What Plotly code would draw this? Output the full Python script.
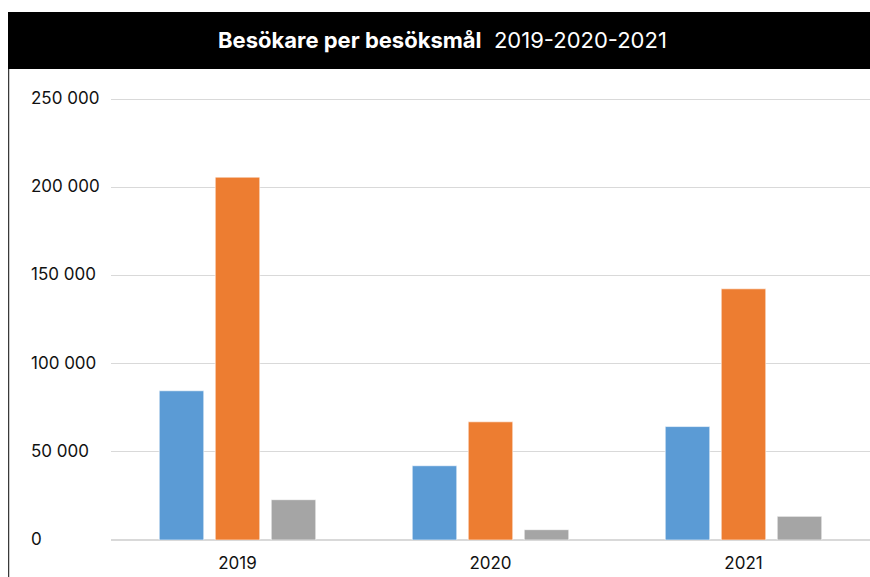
import plotly.graph_objects as go

# ---- data ----
years = ["2019", "2020", "2021"]
series_a = [84600, 42100, 64300]
series_b = [205700, 67000, 142400]
series_c = [22850, 5850, 13400]
y_ticks = [0, 50000, 100000, 150000, 200000, 250000]
title_bold = "Besökare per besöksmål"
title_rest = "2019-2020-2021"

# ---- geometry (pixels, page coordinates; the page body adds an 8px offset) ----
OFF = 8
W, H = 862, 569
L, R, T, B = 103, 0, 86, 37
pw, ph = W - L - R, H - T - B
Y_MAX = 250000 * ph / (ph - 5)  # leave 5px above the top gridline


def px_x(px):
    return (px - OFF - L) / pw


def px_y(py):
    return (H - B - (py - OFF)) / ph


FONT = "Inter, Liberation Sans, Arial, sans-serif"
colors = ["#5B9BD5", "#ED7D31", "#A5A5A5"]

fig = go.Figure()
for vals, col in zip([series_a, series_b, series_c], colors):
    fig.add_trace(go.Bar(
        x=years, y=vals,
        marker=dict(color=col, line=dict(color="rgba(255,255,255,0.6)", width=1)),
        showlegend=False,
    ))

fig.update_layout(
    width=W, height=H,
    margin=dict(l=L, r=R, t=T, b=B, pad=0),
    paper_bgcolor="white", plot_bgcolor="white",
    barmode="group", bargap=0.336, bargroupgap=0.205,
    font=dict(family=FONT, color="#000000", size=16),
    xaxis=dict(
        type="category", range=[-0.5, 2.5],
        showgrid=False, showline=False, zeroline=False,
        ticks="outside", ticklen=8, tickcolor="rgba(0,0,0,0)",
        tickfont=dict(size=17, color="#111111"),
    ),
    yaxis=dict(
        range=[0, Y_MAX], tickvals=y_ticks, showticklabels=False,
        showgrid=True, gridcolor="#D9D9D9", gridwidth=1.3,
        zeroline=True, zerolinecolor="#D9D9D9", zerolinewidth=1.5,
        showline=False, ticks="",
    ),
)

# y tick labels, left aligned
for v in y_ticks:
    fig.add_annotation(
        xref="paper", yref="y", x=px_x(29), y=v,
        text=f"{v:,}".replace(",", " "),
        xanchor="left", yanchor="middle", yshift=1, showarrow=False,
        font=dict(size=17, color="#111111", family=FONT),
    )

# title bar
fig.add_shape(type="rect", xref="paper", yref="paper",
              x0=px_x(8), x1=px_x(W + 20), y0=px_y(69), y1=px_y(12),
              fillcolor="#000000", line=dict(width=0), layer="above")
fig.add_annotation(
    xref="paper", yref="paper", x=px_x(442), y=px_y(40.5),
    text=f"<b>{title_bold}</b>  {title_rest}",
    xanchor="center", yanchor="middle", showarrow=False,
    font=dict(size=22, color="#FFFFFF", family=FONT),
)
# left border line
fig.add_shape(type="line", xref="paper", yref="paper",
              x0=px_x(8.5), x1=px_x(8.5), y0=px_y(69), y1=px_y(H + 20),
              line=dict(color="#3a3a3a", width=1.5), layer="above")

fig.write_html(
    "out.html",
    post_script="document.documentElement.style.overflow='hidden';"
                "document.body.style.overflow='hidden';"
                "document.body.style.margin='8px 0 0 8px';",
)
